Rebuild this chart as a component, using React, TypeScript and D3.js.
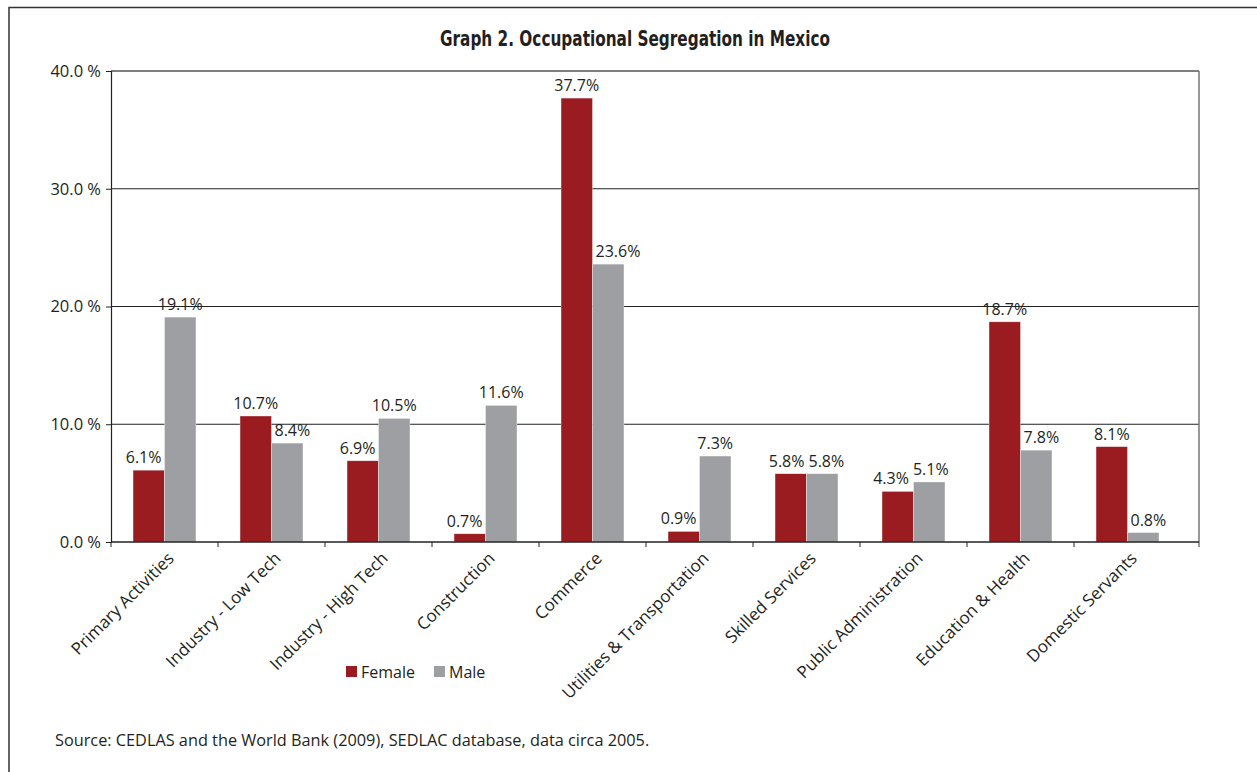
import { useRef, useEffect } from "react";
import * as d3 from "d3";

const categories: string[] = [
    "Primary Activities",
    "Industry - Low Tech",
    "Industry - High Tech",
    "Construction",
    "Commerce",
    "Utilities & Transportation",
    "Skilled Services",
    "Public Administration",
    "Education & Health",
    "Domestic Servants",
];

const female: number[] = [6.1, 10.7, 6.9, 0.7, 37.7, 0.9, 5.8, 4.3, 18.7, 8.1];
const male: number[] = [19.1, 8.4, 10.5, 11.6, 23.6, 7.3, 5.8, 5.1, 7.8, 0.8];

const seriesNames: string[] = ["Female", "Male"];
const yTicks: number[] = [0, 10, 20, 30, 40];

const title = "Graph 2. Occupational Segregation in Mexico";
const source = "Source: CEDLAS and the World Bank (2009), SEDLAC database, data circa 2005.";

const App: React.FC = () => {
    const svgRef = useRef<SVGSVGElement | null>(null);

    useEffect(() => {
        if (!svgRef.current) return;
        const width = 1257;
        const height = 772;
        // bars occupy 111..1181, the frame runs on to 1199
        const plot = { left: 111, right: 1199, bandsEnd: 1181, top: 71, bottom: 542 };
        const colors = ["#9a1c21", "#9d9fa2"];
        const font = "'Open Sans', 'Noto Sans', sans-serif";
        const ink = "#231f20";

        const svg = d3.select(svgRef.current);
        svg.selectAll("*").remove();
        svg.attr("width", width).attr("height", height);

        // outer frame
        svg.append("rect")
            .attr("x", 9)
            .attr("y", 7.5)
            .attr("width", 1400)
            .attr("height", 900)
            .attr("fill", "none")
            .attr("stroke", "#333")
            .attr("stroke-width", 1.5);

        svg.append("text")
            .attr("x", 440)
            .attr("y", 46)
            .attr("font-family", "'DejaVu Sans Condensed', 'Liberation Sans Narrow', sans-serif")
            .attr("font-weight", "bold")
            .attr("font-size", 22)
            .attr("textLength", 390)
            .attr("lengthAdjust", "spacingAndGlyphs")
            .attr("fill", ink)
            .text(title);

        const x = d3
            .scaleBand<string>()
            .domain(categories)
            .range([plot.left, plot.bandsEnd]);
        const xInner = d3
            .scaleBand<string>()
            .domain(seriesNames)
            .range([0, x.bandwidth()])
            .paddingInner(0)
            .paddingOuter(0.7);
        const y = d3.scaleLinear().domain([0, 40]).range([plot.bottom, plot.top]);

        // gridlines
        svg.append("g")
            .selectAll("line")
            .data(yTicks.filter((t) => t > 0))
            .join("line")
            .attr("x1", plot.left)
            .attr("x2", plot.right)
            .attr("y1", (d) => y(d))
            .attr("y2", (d) => y(d))
            .attr("stroke", (d) => (d === 40 ? "#555" : "#222"))
            .attr("stroke-width", (d) => (d === 40 ? 1.5 : 1));

        // right frame edge
        svg.append("line")
            .attr("x1", plot.right)
            .attr("x2", plot.right)
            .attr("y1", plot.top)
            .attr("y2", plot.bottom + 5)
            .attr("stroke", "#777")
            .attr("stroke-width", 1.5);

        // bars
        const rows = categories.map((c, i) => ({ c, vals: [female[i], male[i]] }));
        const group = svg
            .append("g")
            .selectAll("g")
            .data(rows)
            .join("g")
            .attr("transform", (d) => `translate(${x(d.c)!},0)`);

        group
            .selectAll("rect")
            .data((d) => d.vals.map((v, j) => ({ v, s: seriesNames[j], j })))
            .join("rect")
            .attr("x", (d) => xInner(d.s)!)
            .attr("width", xInner.bandwidth())
            .attr("y", (d) => y(d.v))
            .attr("height", (d) => plot.bottom - y(d.v))
            .attr("fill", (d) => colors[d.j])
            .attr("stroke", "#ffffff")
            .attr("stroke-opacity", 0.6)
            .attr("stroke-width", 0.6);

        group
            .selectAll("text")
            .data((d) => d.vals.map((v, j) => ({ v, s: seriesNames[j], j })))
            .join("text")
            .attr("x", (d) => xInner(d.s)! + xInner.bandwidth() / 2)
            .attr("y", (d) => y(d.v) - 7)
            .attr("text-anchor", "middle")
            .attr("font-family", font)
            .attr("font-size", 16)
            .attr("fill", ink)
            .text((d) => `${d.v.toFixed(1)}%`);

        // keep labels off the neighbouring taller bar, then apart from each other
        const bw = xInner.bandwidth();
        group.each(function (row) {
            const t = d3.select(this).selectAll<SVGTextElement, unknown>("text").nodes();
            if (t.length !== 2) return;
            const barX = seriesNames.map((s) => xInner(s)!);
            t.forEach((node, i) => {
                const o = 1 - i;
                if (row.vals[o] <= row.vals[i]) return;
                const base = +node.getAttribute("y")!;
                if (y(row.vals[o]) > base + 3) return;
                const w = node.getComputedTextLength();
                let cx = +node.getAttribute("x")!;
                if (i === 0) {
                    const maxRight = barX[1] - 3;
                    if (cx + w / 2 > maxRight) cx = maxRight - w / 2;
                } else {
                    const minLeft = barX[0] + bw + 3;
                    if (cx - w / 2 < minLeft) cx = minLeft + w / 2;
                }
                node.setAttribute("x", String(cx));
            });
            const [a, b] = t;
            const ya = +a.getAttribute("y")!;
            const yb = +b.getAttribute("y")!;
            if (Math.abs(ya - yb) > 17) return;
            const wa = a.getComputedTextLength();
            const wb = b.getComputedTextLength();
            const xa = +a.getAttribute("x")!;
            const xb = +b.getAttribute("x")!;
            const overlap = xa + wa / 2 + 4 - (xb - wb / 2);
            if (overlap > 0) {
                a.setAttribute("x", String(xa - overlap / 2));
                b.setAttribute("x", String(xb + overlap / 2));
            }
        });

        // y axis
        const yAxis = svg
            .append("g")
            .attr("transform", `translate(${plot.left},0)`)
            .call(
                d3
                    .axisLeft(y)
                    .tickValues(yTicks)
                    .tickSize(5)
                    .tickPadding(5)
                    .tickFormat((d) => `${(d as number).toFixed(1)} %`),
            );
        yAxis.select(".domain").attr("stroke", "#222").attr("stroke-width", 1.2);
        yAxis.selectAll(".tick line").attr("stroke", "#222");
        yAxis
            .selectAll(".tick text")
            .attr("font-family", font)
            .attr("font-size", 16.5)
            .attr("fill", ink);

        // x axis
        svg.append("line")
            .attr("x1", plot.left)
            .attr("x2", plot.right)
            .attr("y1", plot.bottom)
            .attr("y2", plot.bottom)
            .attr("stroke", "#222")
            .attr("stroke-width", 1.5);

        const boundaries = categories.map((c) => x(c)!);
        svg.append("g")
            .selectAll("line")
            .data(boundaries)
            .join("line")
            .attr("x1", (d) => d)
            .attr("x2", (d) => d)
            .attr("y1", plot.bottom)
            .attr("y2", plot.bottom + 5)
            .attr("stroke", "#222");

        svg.append("g")
            .selectAll("text")
            .data(categories)
            .join("text")
            .attr(
                "transform",
                (d) => `translate(${x(d)! + x.bandwidth() / 2 + 2},${plot.bottom + 9}) rotate(-45)`,
            )
            .attr("text-anchor", "end")
            .attr("dy", "0.7em")
            .attr("font-family", font)
            .attr("font-size", 17)
            .attr("fill", ink)
            .text((d) => d);

        // legend
        const legendX = [346, 434];
        const legend = svg
            .append("g")
            .selectAll("g")
            .data(seriesNames)
            .join("g")
            .attr("transform", (_d, i) => `translate(${legendX[i]},666)`);
        legend
            .append("rect")
            .attr("width", 11)
            .attr("height", 11)
            .attr("fill", (_d, i) => colors[i]);
        legend
            .append("text")
            .attr("x", 15)
            .attr("y", 11.5)
            .attr("font-family", font)
            .attr("font-size", 16)
            .attr("fill", ink)
            .text((d) => d);

        svg.append("text")
            .attr("x", 55)
            .attr("y", 746)
            .attr("font-family", font)
            .attr("font-size", 16.3)
            .attr("fill", ink)
            .text(source);
    }, []);

    return (
        <svg
            ref={svgRef}
            style={{ position: "absolute", left: 0, top: 0, background: "#fff" }}
        />
    );
};

export default App;
